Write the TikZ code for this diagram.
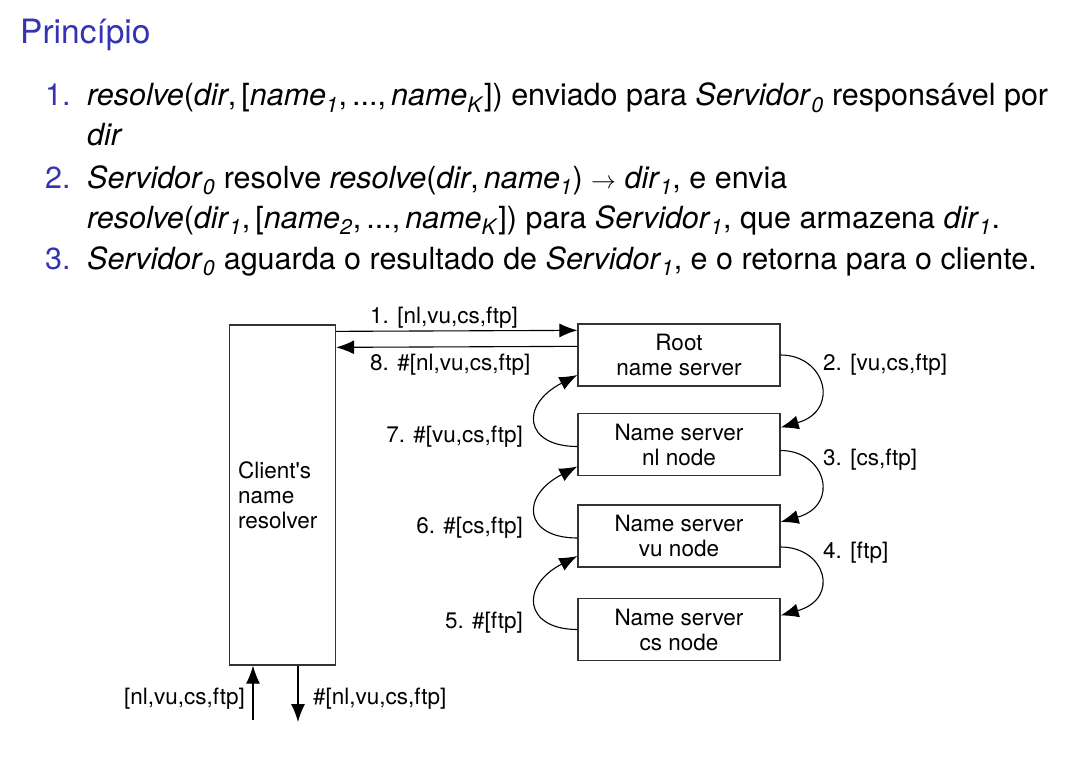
\documentclass[tikz,border=0pt]{standalone}
\usepackage{fontspec}
\setmainfont{TeX Gyre Heros}
\usetikzlibrary{arrows.meta}
\definecolor{beamblue}{RGB}{51,51,179}
\newcommand\vr[1]{\textit{#1}}
\newcommand\sbs[1]{\textsubscript{\textit{#1}}}

\begin{document}
\begin{tikzpicture}
[
    x=1pt, y=-1pt,
    title/.style={anchor=base west, inner sep=0, text=beamblue, font=\fontsize{33.5}{40}\selectfont},
    item/.style={anchor=base west, inner sep=0, font=\fontsize{30.5}{36}\selectfont},
    num/.style={item, text=beamblue},
    srv/.style={draw=black!80, line width=1.3pt, minimum width=202pt, minimum height=62pt, align=center, inner sep=0, font=\fontsize{22.5}{25}\selectfont},
    msg/.style={inner sep=0, font=\fontsize{22.5}{25}\selectfont},
    hop/.style={line width=1.1pt, -{Latex[length=18pt,width=14pt]}},
]
\useasboundingbox (0,0) rectangle (1082,760);
\node [title] (ttl) at (20,44) {Princípio};

\node [num] (n1) at (45,106) {1.};
\node [item] (i1a) at (87,106) {\vr{resolve}(\vr{dir},\,[\vr{name}\sbs{1},\,...,\,\vr{name}\sbs{K}]) enviado para \vr{Servidor}\sbs{0} responsável por};
\node [item] (i1b) at (87,145) {\vr{dir}};
\node [num] (n2) at (45,188) {2.};
\node [item] (i2a) at (87,188) {\vr{Servidor}\sbs{0} resolve \vr{resolve}(\vr{dir},\,\vr{name}\sbs{1}) $\rightarrow$ \vr{dir}\sbs{1}, e envia};
\node [item] (i2b) at (87,228) {\vr{resolve}(\vr{dir}\sbs{1},\,[\vr{name}\sbs{2},\,...,\,\vr{name}\sbs{K}]) para \vr{Servidor}\sbs{1}, que armazena \vr{dir}\sbs{1}.};
\node [num] (n3) at (45,269) {3.};
\node [item] (i3a) at (87,269) {\vr{Servidor}\sbs{0} aguarda o resultado de \vr{Servidor}\sbs{1}, e o retorna para o cliente.};

\node [srv, minimum width=106pt, minimum height=340pt] (client) at (282.5,495) {};
\node [msg, anchor=west, align=left] (clienttxt) at ([xshift=9pt]client.west) {Client\textquotesingle s\\name\\resolver};

\node [srv] (root) at (679,355) {Root\\name server};
\node [srv] (nl) at (679,444.5) {Name server\\nl node};
\node [srv] (vu) at (679,536) {Name server\\vu node};
\node [srv] (cs) at (679,629.5) {Name server\\cs node};

\draw [hop] ([yshift=-7pt]client.north east) -- ([yshift=-7pt]root.north west);
\draw [hop] ([yshift=-23pt]root.north west) -- ([yshift=-23pt]client.north east);

\draw [hop] (root.east) .. controls +(45,0) and +(60,-17) .. ([yshift=17pt]nl.east);
\draw [hop] ([yshift=-6pt]nl.east) .. controls +(45,0) and +(60,-17) .. ([yshift=14pt]vu.east);
\draw [hop] ([yshift=-11pt]vu.east) .. controls +(45,0) and +(60,-17) .. ([yshift=14pt]cs.east);

\draw [hop] ([yshift=-2pt]nl.west) .. controls +(-53,0) and +(-58,30) .. ([yshift=-20pt]root.west);
\draw [hop] ([yshift=-2pt]vu.west) .. controls +(-53,0) and +(-58,30) .. ([yshift=-22pt]nl.west);
\draw [hop] (cs.west) .. controls +(-53,0) and +(-58,30) .. ([yshift=-20pt]vu.west);

\coordinate (inq) at (253,720);
\coordinate (outq) at (298,722);
\draw [hop] (inq) -- (inq |- client.south);
\draw [hop] (outq |- client.south) -- (outq);

\node [msg, anchor=west] (m1) at (370,318) {1. [nl,vu,cs,ftp]};
\node [msg, anchor=west] (m8) at (370,365) {8. \#[nl,vu,cs,ftp]};
\node [msg, anchor=west] (m2) at (823,365) {2. [vu,cs,ftp]};
\node [msg, anchor=east] (m7) at (523,437) {7. \#[vu,cs,ftp]};
\node [msg, anchor=west] (m3) at (823,460) {3. [cs,ftp]};
\node [msg, anchor=east] (m6) at (523,528) {6. \#[cs,ftp]};
\node [msg, anchor=west] (m4) at (823,553) {4. [ftp]};
\node [msg, anchor=east] (m5) at (523,623) {5. \#[ftp]};
\node [msg, anchor=east] (qin) at (245,699) {[nl,vu,cs,ftp]};
\node [msg, anchor=west] (qout) at (313,699) {\#[nl,vu,cs,ftp]};
\end{tikzpicture}
\end{document}
